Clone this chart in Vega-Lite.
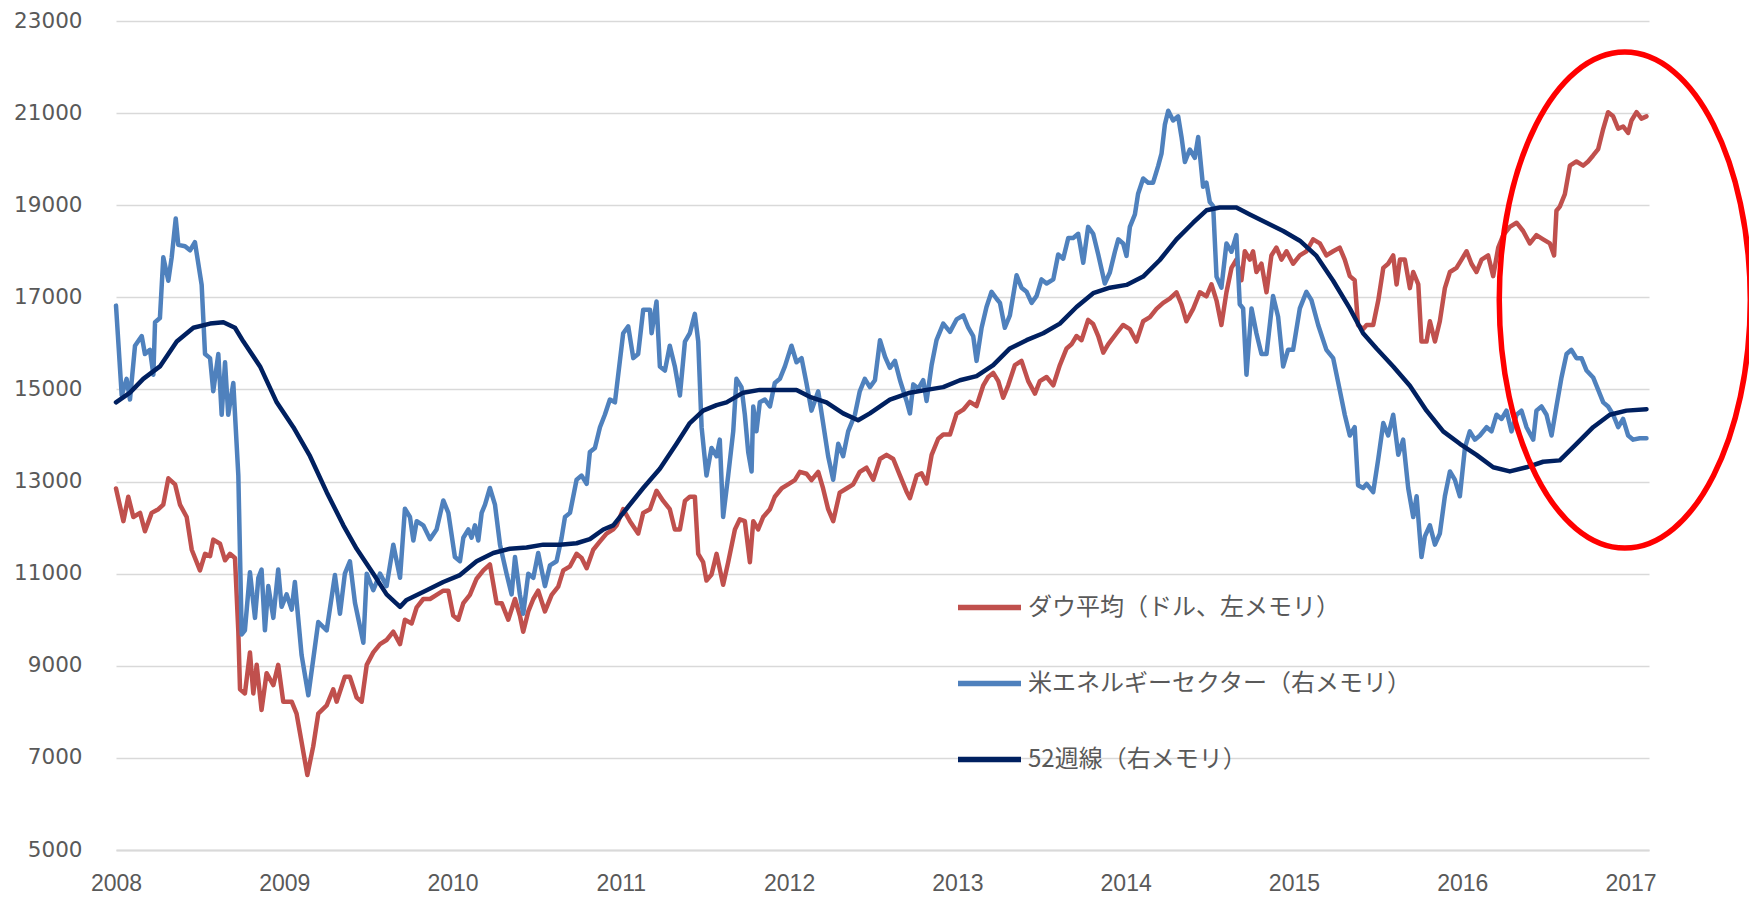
{
  "$schema": "https://vega.github.io/schema/vega-lite/v6.json",
  "width": 1533,
  "height": 829,
  "autosize": {"type": "none"},
  "padding": {"left": 116, "top": 21, "right": 100, "bottom": 47},
  "background": "white",
  "config": {"view": {"stroke": null}},
  "datasets": {
    "dow": [
      {"t":2008.000,"v":12850},{"t":2008.044,"v":12140},{"t":2008.073,"v":12670},{"t":2008.103,"v":12230},{"t":2008.143,"v":12320},{"t":2008.172,"v":11920},{"t":2008.212,"v":12320},{"t":2008.252,"v":12400},{"t":2008.281,"v":12500},{"t":2008.311,"v":13070},{"t":2008.351,"v":12940},{"t":2008.380,"v":12500},{"t":2008.420,"v":12230},{"t":2008.450,"v":11520},{"t":2008.499,"v":11070},{"t":2008.529,"v":11430},{"t":2008.559,"v":11380},{"t":2008.578,"v":11740},{"t":2008.618,"v":11650},{"t":2008.648,"v":11290},{"t":2008.677,"v":11430},{"t":2008.707,"v":11340},{"t":2008.727,"v":9740},{"t":2008.737,"v":8490},{"t":2008.766,"v":8400},{"t":2008.796,"v":9290},{"t":2008.816,"v":8400},{"t":2008.836,"v":9020},{"t":2008.865,"v":8040},{"t":2008.895,"v":8840},{"t":2008.935,"v":8580},{"t":2008.964,"v":9020},{"t":2008.994,"v":8220},{"t":2009.044,"v":8220},{"t":2009.073,"v":7960},{"t":2009.103,"v":7340},{"t":2009.137,"v":6630},{"t":2009.172,"v":7250},{"t":2009.202,"v":7960},{"t":2009.252,"v":8140},{"t":2009.291,"v":8490},{"t":2009.311,"v":8220},{"t":2009.360,"v":8760},{"t":2009.390,"v":8760},{"t":2009.430,"v":8310},{"t":2009.460,"v":8220},{"t":2009.490,"v":9020},{"t":2009.529,"v":9290},{"t":2009.569,"v":9470},{"t":2009.608,"v":9560},{"t":2009.648,"v":9740},{"t":2009.688,"v":9470},{"t":2009.717,"v":10000},{"t":2009.757,"v":9920},{"t":2009.787,"v":10270},{"t":2009.826,"v":10450},{"t":2009.866,"v":10450},{"t":2009.905,"v":10540},{"t":2009.945,"v":10630},{"t":2009.975,"v":10630},{"t":2010.004,"v":10090},{"t":2010.034,"v":10000},{"t":2010.064,"v":10360},{"t":2010.103,"v":10540},{"t":2010.143,"v":10890},{"t":2010.183,"v":11070},{"t":2010.222,"v":11200},{"t":2010.262,"v":10360},{"t":2010.292,"v":10360},{"t":2010.331,"v":10000},{"t":2010.371,"v":10450},{"t":2010.400,"v":10090},{"t":2010.420,"v":9740},{"t":2010.450,"v":10180},{"t":2010.480,"v":10450},{"t":2010.509,"v":10630},{"t":2010.549,"v":10180},{"t":2010.589,"v":10540},{"t":2010.628,"v":10720},{"t":2010.658,"v":11070},{"t":2010.698,"v":11160},{"t":2010.737,"v":11430},{"t":2010.767,"v":11340},{"t":2010.797,"v":11120},{"t":2010.836,"v":11520},{"t":2010.876,"v":11700},{"t":2010.915,"v":11870},{"t":2010.955,"v":11960},{"t":2010.975,"v":12050},{"t":2011.014,"v":12400},{"t":2011.054,"v":12140},{"t":2011.103,"v":11870},{"t":2011.133,"v":12320},{"t":2011.173,"v":12400},{"t":2011.212,"v":12800},{"t":2011.252,"v":12580},{"t":2011.291,"v":12400},{"t":2011.321,"v":11960},{"t":2011.351,"v":11960},{"t":2011.381,"v":12580},{"t":2011.410,"v":12670},{"t":2011.440,"v":12670},{"t":2011.460,"v":11430},{"t":2011.489,"v":11250},{"t":2011.509,"v":10850},{"t":2011.539,"v":10980},{"t":2011.569,"v":11430},{"t":2011.608,"v":10760},{"t":2011.638,"v":11250},{"t":2011.678,"v":11960},{"t":2011.707,"v":12180},{"t":2011.737,"v":12140},{"t":2011.767,"v":11250},{"t":2011.787,"v":12140},{"t":2011.816,"v":11960},{"t":2011.846,"v":12230},{"t":2011.886,"v":12400},{"t":2011.915,"v":12670},{"t":2011.955,"v":12850},{"t":2011.994,"v":12940},{"t":2012.034,"v":13030},{"t":2012.064,"v":13210},{"t":2012.103,"v":13170},{"t":2012.133,"v":13030},{"t":2012.173,"v":13210},{"t":2012.202,"v":12850},{"t":2012.232,"v":12400},{"t":2012.262,"v":12140},{"t":2012.301,"v":12760},{"t":2012.341,"v":12850},{"t":2012.381,"v":12940},{"t":2012.420,"v":13210},{"t":2012.460,"v":13300},{"t":2012.500,"v":13040},{"t":2012.540,"v":13490},{"t":2012.579,"v":13580},{"t":2012.619,"v":13490},{"t":2012.659,"v":13130},{"t":2012.698,"v":12780},{"t":2012.718,"v":12640},{"t":2012.758,"v":13130},{"t":2012.787,"v":13180},{"t":2012.817,"v":12960},{"t":2012.847,"v":13580},{"t":2012.886,"v":13930},{"t":2012.916,"v":14020},{"t":2012.956,"v":14020},{"t":2012.995,"v":14470},{"t":2013.035,"v":14560},{"t":2013.074,"v":14730},{"t":2013.114,"v":14640},{"t":2013.154,"v":15090},{"t":2013.183,"v":15270},{"t":2013.213,"v":15360},{"t":2013.243,"v":15180},{"t":2013.272,"v":14820},{"t":2013.302,"v":15090},{"t":2013.342,"v":15530},{"t":2013.381,"v":15620},{"t":2013.421,"v":15180},{"t":2013.461,"v":14910},{"t":2013.490,"v":15180},{"t":2013.530,"v":15270},{"t":2013.570,"v":15090},{"t":2013.609,"v":15530},{"t":2013.649,"v":15890},{"t":2013.678,"v":15980},{"t":2013.708,"v":16160},{"t":2013.738,"v":16070},{"t":2013.777,"v":16510},{"t":2013.807,"v":16420},{"t":2013.837,"v":16160},{"t":2013.867,"v":15800},{"t":2013.896,"v":15980},{"t":2013.946,"v":16220},{"t":2013.985,"v":16400},{"t":2014.025,"v":16310},{"t":2014.064,"v":16040},{"t":2014.104,"v":16480},{"t":2014.144,"v":16570},{"t":2014.183,"v":16750},{"t":2014.223,"v":16880},{"t":2014.262,"v":16970},{"t":2014.302,"v":17110},{"t":2014.332,"v":16840},{"t":2014.361,"v":16480},{"t":2014.401,"v":16750},{"t":2014.441,"v":17110},{"t":2014.480,"v":17020},{"t":2014.510,"v":17280},{"t":2014.540,"v":16930},{"t":2014.569,"v":16400},{"t":2014.599,"v":17110},{"t":2014.629,"v":17640},{"t":2014.658,"v":17820},{"t":2014.688,"v":17370},{"t":2014.708,"v":18000},{"t":2014.738,"v":17820},{"t":2014.757,"v":18000},{"t":2014.777,"v":17550},{"t":2014.807,"v":17730},{"t":2014.837,"v":17110},{"t":2014.866,"v":17910},{"t":2014.896,"v":18080},{"t":2014.926,"v":17820},{"t":2014.956,"v":18000},{"t":2014.995,"v":17730},{"t":2015.035,"v":17910},{"t":2015.074,"v":18000},{"t":2015.114,"v":18260},{"t":2015.154,"v":18170},{"t":2015.193,"v":17910},{"t":2015.233,"v":18000},{"t":2015.272,"v":18080},{"t":2015.302,"v":17820},{"t":2015.332,"v":17460},{"t":2015.361,"v":17370},{"t":2015.381,"v":16400},{"t":2015.411,"v":16310},{"t":2015.432,"v":16400},{"t":2015.471,"v":16400},{"t":2015.501,"v":16930},{"t":2015.531,"v":17640},{"t":2015.560,"v":17730},{"t":2015.590,"v":17910},{"t":2015.610,"v":17280},{"t":2015.630,"v":17820},{"t":2015.659,"v":17820},{"t":2015.689,"v":17200},{"t":2015.709,"v":17550},{"t":2015.739,"v":17280},{"t":2015.758,"v":16040},{"t":2015.788,"v":16040},{"t":2015.808,"v":16480},{"t":2015.838,"v":16040},{"t":2015.867,"v":16480},{"t":2015.897,"v":17200},{"t":2015.927,"v":17550},{"t":2015.966,"v":17640},{"t":2015.996,"v":17820},{"t":2016.026,"v":18000},{"t":2016.055,"v":17730},{"t":2016.085,"v":17550},{"t":2016.115,"v":17820},{"t":2016.154,"v":17910},{"t":2016.184,"v":17460},{"t":2016.214,"v":18080},{"t":2016.244,"v":18350},{"t":2016.283,"v":18530},{"t":2016.323,"v":18620},{"t":2016.362,"v":18440},{"t":2016.402,"v":18170},{"t":2016.441,"v":18350},{"t":2016.481,"v":18260},{"t":2016.521,"v":18170},{"t":2016.546,"v":17910},{"t":2016.560,"v":18880},{"t":2016.580,"v":18970},{"t":2016.610,"v":19240},{"t":2016.640,"v":19860},{"t":2016.679,"v":19950},{"t":2016.719,"v":19860},{"t":2016.748,"v":19950},{"t":2016.778,"v":20080},{"t":2016.808,"v":20220},{"t":2016.838,"v":20660},{"t":2016.867,"v":21020},{"t":2016.897,"v":20930},{"t":2016.927,"v":20660},{"t":2016.956,"v":20710},{"t":2016.986,"v":20570},{"t":2017.006,"v":20840},{"t":2017.036,"v":21020},{"t":2017.065,"v":20880},{"t":2017.095,"v":20930}
    ],
    "energy": [
      {"t":2008.000,"v":594},{"t":2008.034,"v":529},{"t":2008.063,"v":541},{"t":2008.083,"v":526},{"t":2008.113,"v":565},{"t":2008.153,"v":572},{"t":2008.172,"v":559},{"t":2008.202,"v":562},{"t":2008.222,"v":544},{"t":2008.232,"v":582},{"t":2008.261,"v":585},{"t":2008.281,"v":629},{"t":2008.311,"v":612},{"t":2008.331,"v":629},{"t":2008.355,"v":657},{"t":2008.370,"v":638},{"t":2008.410,"v":637},{"t":2008.440,"v":634},{"t":2008.469,"v":640},{"t":2008.509,"v":609},{"t":2008.529,"v":559},{"t":2008.559,"v":556},{"t":2008.578,"v":532},{"t":2008.608,"v":559},{"t":2008.628,"v":515},{"t":2008.648,"v":553},{"t":2008.667,"v":515},{"t":2008.697,"v":538},{"t":2008.727,"v":471},{"t":2008.747,"v":356},{"t":2008.766,"v":359},{"t":2008.796,"v":401},{"t":2008.826,"v":368},{"t":2008.846,"v":397},{"t":2008.865,"v":403},{"t":2008.885,"v":359},{"t":2008.905,"v":391},{"t":2008.935,"v":368},{"t":2008.964,"v":403},{"t":2008.984,"v":376},{"t":2009.014,"v":385},{"t":2009.044,"v":374},{"t":2009.063,"v":394},{"t":2009.103,"v":341},{"t":2009.143,"v":312},{"t":2009.172,"v":338},{"t":2009.202,"v":365},{"t":2009.252,"v":359},{"t":2009.301,"v":399},{"t":2009.331,"v":371},{"t":2009.360,"v":400},{"t":2009.390,"v":409},{"t":2009.420,"v":379},{"t":2009.470,"v":350},{"t":2009.490,"v":400},{"t":2009.529,"v":388},{"t":2009.569,"v":400},{"t":2009.608,"v":391},{"t":2009.648,"v":421},{"t":2009.688,"v":397},{"t":2009.717,"v":447},{"t":2009.747,"v":441},{"t":2009.767,"v":424},{"t":2009.787,"v":438},{"t":2009.826,"v":435},{"t":2009.866,"v":425},{"t":2009.905,"v":432},{"t":2009.945,"v":453},{"t":2009.975,"v":444},{"t":2010.014,"v":412},{"t":2010.044,"v":409},{"t":2010.064,"v":426},{"t":2010.094,"v":432},{"t":2010.113,"v":426},{"t":2010.133,"v":435},{"t":2010.153,"v":424},{"t":2010.173,"v":444},{"t":2010.193,"v":450},{"t":2010.222,"v":462},{"t":2010.252,"v":450},{"t":2010.282,"v":421},{"t":2010.321,"v":400},{"t":2010.351,"v":385},{"t":2010.371,"v":412},{"t":2010.400,"v":385},{"t":2010.420,"v":371},{"t":2010.450,"v":400},{"t":2010.480,"v":397},{"t":2010.509,"v":415},{"t":2010.549,"v":391},{"t":2010.579,"v":406},{"t":2010.618,"v":409},{"t":2010.648,"v":426},{"t":2010.668,"v":441},{"t":2010.698,"v":444},{"t":2010.737,"v":468},{"t":2010.767,"v":471},{"t":2010.797,"v":465},{"t":2010.816,"v":488},{"t":2010.846,"v":491},{"t":2010.876,"v":506},{"t":2010.905,"v":515},{"t":2010.935,"v":526},{"t":2010.965,"v":524},{"t":2011.014,"v":574},{"t":2011.044,"v":579},{"t":2011.074,"v":556},{"t":2011.103,"v":559},{"t":2011.133,"v":591},{"t":2011.173,"v":591},{"t":2011.183,"v":574},{"t":2011.212,"v":597},{"t":2011.232,"v":550},{"t":2011.262,"v":547},{"t":2011.291,"v":565},{"t":2011.321,"v":550},{"t":2011.351,"v":529},{"t":2011.381,"v":568},{"t":2011.410,"v":574},{"t":2011.440,"v":588},{"t":2011.460,"v":568},{"t":2011.480,"v":506},{"t":2011.509,"v":471},{"t":2011.539,"v":491},{"t":2011.569,"v":485},{"t":2011.588,"v":497},{"t":2011.608,"v":441},{"t":2011.638,"v":471},{"t":2011.668,"v":503},{"t":2011.687,"v":541},{"t":2011.717,"v":535},{"t":2011.737,"v":515},{"t":2011.757,"v":488},{"t":2011.777,"v":474},{"t":2011.787,"v":521},{"t":2011.806,"v":503},{"t":2011.826,"v":524},{"t":2011.856,"v":526},{"t":2011.886,"v":521},{"t":2011.915,"v":538},{"t":2011.945,"v":541},{"t":2011.975,"v":550},{"t":2012.014,"v":565},{"t":2012.044,"v":553},{"t":2012.074,"v":556},{"t":2012.103,"v":538},{"t":2012.133,"v":518},{"t":2012.173,"v":532},{"t":2012.202,"v":509},{"t":2012.232,"v":485},{"t":2012.262,"v":468},{"t":2012.292,"v":494},{"t":2012.321,"v":485},{"t":2012.351,"v":503},{"t":2012.391,"v":515},{"t":2012.420,"v":532},{"t":2012.450,"v":541},{"t":2012.480,"v":535},{"t":2012.510,"v":540},{"t":2012.540,"v":569},{"t":2012.570,"v":557},{"t":2012.599,"v":549},{"t":2012.629,"v":554},{"t":2012.659,"v":540},{"t":2012.698,"v":525},{"t":2012.718,"v":516},{"t":2012.738,"v":537},{"t":2012.768,"v":534},{"t":2012.797,"v":540},{"t":2012.817,"v":525},{"t":2012.847,"v":551},{"t":2012.876,"v":569},{"t":2012.916,"v":581},{"t":2012.956,"v":575},{"t":2012.995,"v":584},{"t":2013.035,"v":587},{"t":2013.065,"v":578},{"t":2013.094,"v":572},{"t":2013.114,"v":554},{"t":2013.144,"v":578},{"t":2013.173,"v":593},{"t":2013.203,"v":604},{"t":2013.233,"v":599},{"t":2013.253,"v":596},{"t":2013.282,"v":578},{"t":2013.312,"v":587},{"t":2013.352,"v":616},{"t":2013.381,"v":607},{"t":2013.411,"v":604},{"t":2013.441,"v":596},{"t":2013.471,"v":601},{"t":2013.500,"v":613},{"t":2013.530,"v":610},{"t":2013.570,"v":613},{"t":2013.599,"v":631},{"t":2013.629,"v":628},{"t":2013.659,"v":643},{"t":2013.688,"v":643},{"t":2013.718,"v":646},{"t":2013.748,"v":625},{"t":2013.777,"v":651},{"t":2013.807,"v":646},{"t":2013.837,"v":631},{"t":2013.876,"v":610},{"t":2013.906,"v":618},{"t":2013.936,"v":633},{"t":2013.956,"v":642},{"t":2013.985,"v":639},{"t":2014.005,"v":630},{"t":2014.025,"v":651},{"t":2014.055,"v":660},{"t":2014.074,"v":675},{"t":2014.104,"v":686},{"t":2014.134,"v":683},{"t":2014.163,"v":683},{"t":2014.193,"v":695},{"t":2014.213,"v":704},{"t":2014.233,"v":725},{"t":2014.253,"v":735},{"t":2014.282,"v":728},{"t":2014.312,"v":731},{"t":2014.332,"v":716},{"t":2014.352,"v":698},{"t":2014.381,"v":707},{"t":2014.411,"v":701},{"t":2014.431,"v":716},{"t":2014.460,"v":680},{"t":2014.480,"v":683},{"t":2014.500,"v":669},{"t":2014.520,"v":666},{"t":2014.540,"v":615},{"t":2014.569,"v":607},{"t":2014.599,"v":639},{"t":2014.629,"v":633},{"t":2014.658,"v":645},{"t":2014.678,"v":595},{"t":2014.698,"v":592},{"t":2014.718,"v":544},{"t":2014.748,"v":592},{"t":2014.777,"v":574},{"t":2014.807,"v":559},{"t":2014.837,"v":559},{"t":2014.876,"v":601},{"t":2014.906,"v":586},{"t":2014.936,"v":550},{"t":2014.965,"v":562},{"t":2014.995,"v":562},{"t":2015.035,"v":592},{"t":2015.074,"v":604},{"t":2015.104,"v":598},{"t":2015.144,"v":580},{"t":2015.193,"v":562},{"t":2015.233,"v":556},{"t":2015.272,"v":533},{"t":2015.302,"v":515},{"t":2015.332,"v":500},{"t":2015.361,"v":506},{"t":2015.381,"v":464},{"t":2015.411,"v":462},{"t":2015.432,"v":465},{"t":2015.471,"v":459},{"t":2015.501,"v":483},{"t":2015.531,"v":509},{"t":2015.560,"v":500},{"t":2015.590,"v":515},{"t":2015.620,"v":486},{"t":2015.649,"v":497},{"t":2015.679,"v":462},{"t":2015.709,"v":441},{"t":2015.729,"v":456},{"t":2015.758,"v":412},{"t":2015.778,"v":427},{"t":2015.808,"v":435},{"t":2015.838,"v":421},{"t":2015.867,"v":429},{"t":2015.897,"v":456},{"t":2015.927,"v":474},{"t":2015.956,"v":468},{"t":2015.986,"v":456},{"t":2016.016,"v":491},{"t":2016.045,"v":503},{"t":2016.075,"v":497},{"t":2016.105,"v":500},{"t":2016.145,"v":506},{"t":2016.174,"v":503},{"t":2016.204,"v":515},{"t":2016.234,"v":512},{"t":2016.263,"v":518},{"t":2016.293,"v":503},{"t":2016.323,"v":515},{"t":2016.352,"v":518},{"t":2016.382,"v":506},{"t":2016.422,"v":497},{"t":2016.441,"v":518},{"t":2016.471,"v":521},{"t":2016.501,"v":515},{"t":2016.531,"v":500},{"t":2016.560,"v":521},{"t":2016.590,"v":542},{"t":2016.620,"v":559},{"t":2016.649,"v":562},{"t":2016.679,"v":556},{"t":2016.709,"v":556},{"t":2016.739,"v":547},{"t":2016.778,"v":542},{"t":2016.808,"v":533},{"t":2016.838,"v":524},{"t":2016.867,"v":521},{"t":2016.897,"v":515},{"t":2016.927,"v":506},{"t":2016.956,"v":512},{"t":2016.986,"v":500},{"t":2017.016,"v":497},{"t":2017.055,"v":498},{"t":2017.095,"v":498}
    ],
    "ma": [
      {"t":2008.000,"v":524},{"t":2008.083,"v":531},{"t":2008.162,"v":541},{"t":2008.261,"v":550},{"t":2008.361,"v":568},{"t":2008.460,"v":578},{"t":2008.559,"v":581},{"t":2008.638,"v":582},{"t":2008.707,"v":578},{"t":2008.757,"v":568},{"t":2008.856,"v":550},{"t":2008.955,"v":524},{"t":2009.054,"v":506},{"t":2009.153,"v":485},{"t":2009.252,"v":459},{"t":2009.351,"v":435},{"t":2009.430,"v":418},{"t":2009.529,"v":400},{"t":2009.608,"v":385},{"t":2009.688,"v":376},{"t":2009.727,"v":381},{"t":2009.846,"v":388},{"t":2009.945,"v":394},{"t":2010.044,"v":399},{"t":2010.143,"v":409},{"t":2010.242,"v":415},{"t":2010.341,"v":418},{"t":2010.440,"v":419},{"t":2010.539,"v":421},{"t":2010.638,"v":421},{"t":2010.737,"v":422},{"t":2010.816,"v":425},{"t":2010.896,"v":432},{"t":2010.955,"v":435},{"t":2011.034,"v":447},{"t":2011.133,"v":462},{"t":2011.232,"v":476},{"t":2011.331,"v":494},{"t":2011.410,"v":509},{"t":2011.489,"v":518},{"t":2011.569,"v":522},{"t":2011.628,"v":524},{"t":2011.727,"v":531},{"t":2011.826,"v":533},{"t":2011.925,"v":533},{"t":2012.044,"v":533},{"t":2012.123,"v":528},{"t":2012.222,"v":524},{"t":2012.321,"v":516},{"t":2012.410,"v":511},{"t":2012.480,"v":516},{"t":2012.599,"v":526},{"t":2012.718,"v":531},{"t":2012.817,"v":533},{"t":2012.916,"v":535},{"t":2013.015,"v":540},{"t":2013.114,"v":543},{"t":2013.213,"v":551},{"t":2013.312,"v":563},{"t":2013.411,"v":569},{"t":2013.510,"v":574},{"t":2013.609,"v":581},{"t":2013.708,"v":593},{"t":2013.807,"v":603},{"t":2013.906,"v":607},{"t":2014.005,"v":609},{"t":2014.104,"v":615},{"t":2014.203,"v":627},{"t":2014.302,"v":642},{"t":2014.401,"v":654},{"t":2014.480,"v":663},{"t":2014.559,"v":665},{"t":2014.658,"v":665},{"t":2014.738,"v":660},{"t":2014.837,"v":654},{"t":2014.936,"v":648},{"t":2015.035,"v":641},{"t":2015.134,"v":630},{"t":2015.233,"v":612},{"t":2015.332,"v":592},{"t":2015.411,"v":574},{"t":2015.491,"v":563},{"t":2015.590,"v":550},{"t":2015.689,"v":536},{"t":2015.788,"v":518},{"t":2015.887,"v":503},{"t":2015.986,"v":494},{"t":2016.085,"v":486},{"t":2016.184,"v":477},{"t":2016.283,"v":474},{"t":2016.382,"v":477},{"t":2016.481,"v":481},{"t":2016.580,"v":482},{"t":2016.679,"v":494},{"t":2016.778,"v":506},{"t":2016.877,"v":515},{"t":2016.976,"v":518},{"t":2017.095,"v":519}
    ],
    "mark": [
      {"t":2016.966,"v":598}
    ]
  },
  "layer": [
    {
      "data": {"name": "dow"},
      "mark": {"type": "line", "strokeWidth": 4.5, "strokeJoin": "round", "strokeCap": "round"},
      "encoding": {
        "x": {
          "field": "t", "type": "quantitative",
          "scale": {"domain": [2008, 2017.11], "nice": false, "zero": false},
          "axis": {
            "orient": "bottom", "title": null,
            "values": [2008, 2009, 2010, 2011, 2012, 2013, 2014, 2015, 2016, 2017],
            "format": "d", "labelFlush": false, "labelOverlap": false,
            "ticks": false, "grid": false,
            "domain": true, "domainColor": "#d9d9d9", "domainWidth": 2,
            "labelFont": "Liberation Sans", "labelFontSize": 23, "labelColor": "#595959",
            "labelPadding": 22
          }
        },
        "y": {
          "field": "v", "type": "quantitative",
          "scale": {"domain": [5000, 23000], "nice": false, "zero": false},
          "axis": {
            "orient": "left", "title": null,
            "values": [5000, 7000, 9000, 11000, 13000, 15000, 17000, 19000, 21000, 23000],
            "format": "d", "labelFlush": false, "labelOverlap": false,
            "grid": true, "gridColor": "#d9d9d9", "gridWidth": 1.5,
            "domain": false, "ticks": false,
            "labelFont": "DejaVu Sans", "labelFontSize": 21.5, "labelColor": "#595959",
            "labelPadding": 34
          }
        },
        "color": {
          "datum": "ダウ平均（ドル、左メモリ）",
          "scale": {
            "domain": ["ダウ平均（ドル、左メモリ）", "米エネルギーセクター（右メモリ）", "52週線（右メモリ）"],
            "range": ["#c0504d", "#4f81bd", "#002060"]
          },
          "legend": {
            "orient": "none", "legendX": 839, "legendY": 552,
            "direction": "vertical", "title": null, "padding": 0,
            "symbolType": "stroke", "symbolSize": 3969, "symbolStrokeWidth": 5.5,
            "labelFont": "Noto Sans CJK JP", "labelFontSize": 24, "labelColor": "#595959",
            "labelOffset": 4, "rowPadding": 29, "labelLimit": 700
          }
        }
      }
    },
    {
      "layer": [
        {
          "data": {"name": "energy"},
          "mark": {"type": "line", "strokeWidth": 4.5, "strokeJoin": "round", "strokeCap": "round"},
          "encoding": {
            "x": {
              "field": "t", "type": "quantitative",
              "axis": {
                "orient": "bottom", "title": null, "labels": false, "grid": false, "domain": false,
                "ticks": true, "tickColor": "#d9d9d9", "tickSize": 7, "tickWidth": 1.5,
                "values": [2008, 2008.2222, 2008.4444, 2008.6667, 2008.8889, 2009.1111, 2009.3333, 2009.5556, 2009.7778, 2010, 2010.2222, 2010.4444, 2010.6667, 2010.8889, 2011.1111, 2011.3333, 2011.5556, 2011.7778, 2012, 2012.2222, 2012.4444, 2012.6667, 2012.8889, 2013.1111, 2013.3333, 2013.5556, 2013.7778, 2014, 2014.2222, 2014.4444, 2014.6667, 2014.8889, 2015.1111, 2015.3333, 2015.5556, 2015.7778, 2016, 2016.2222, 2016.4444, 2016.6667, 2016.8889]
              }
            },
            "y": {
              "field": "v", "type": "quantitative",
              "scale": {"domain": [200, 800], "nice": false, "zero": false},
              "axis": {
                "orient": "right", "title": null,
                "values": [200, 300, 400, 500, 600, 700, 800],
                "format": "d", "labelFlush": false, "labelOverlap": false,
                "grid": false, "domain": false, "ticks": false,
                "labelFont": "DejaVu Sans", "labelFontSize": 21.5, "labelColor": "#595959",
                "labelPadding": 26
              }
            },
            "color": {"datum": "米エネルギーセクター（右メモリ）"}
          }
        },
        {
          "data": {"name": "ma"},
          "mark": {"type": "line", "strokeWidth": 4.5, "strokeJoin": "round", "strokeCap": "round"},
          "encoding": {
            "x": {"field": "t", "type": "quantitative", "axis": null},
            "y": {"field": "v", "type": "quantitative", "axis": null},
            "color": {"datum": "52週線（右メモリ）"}
          }
        },
        {
          "data": {"name": "mark"},
          "mark": {
            "type": "point",
            "shape": "M1,0C1,1.091 0.5523,1.976 0,1.976C-0.5523,1.976 -1,1.091 -1,0C-1,-1.091 -0.5523,-1.976 0,-1.976C0.5523,-1.976 1,-1.091 1,0Z",
            "size": 63001, "filled": false, "stroke": "#ff0000", "strokeWidth": 5.5, "opacity": 1
          },
          "encoding": {
            "x": {"field": "t", "type": "quantitative", "axis": null},
            "y": {"field": "v", "type": "quantitative", "axis": null}
          }
        }
      ]
    }
  ],
  "resolve": {"scale": {"y": "independent"}, "axis": {"x": "independent", "y": "independent"}}
}
